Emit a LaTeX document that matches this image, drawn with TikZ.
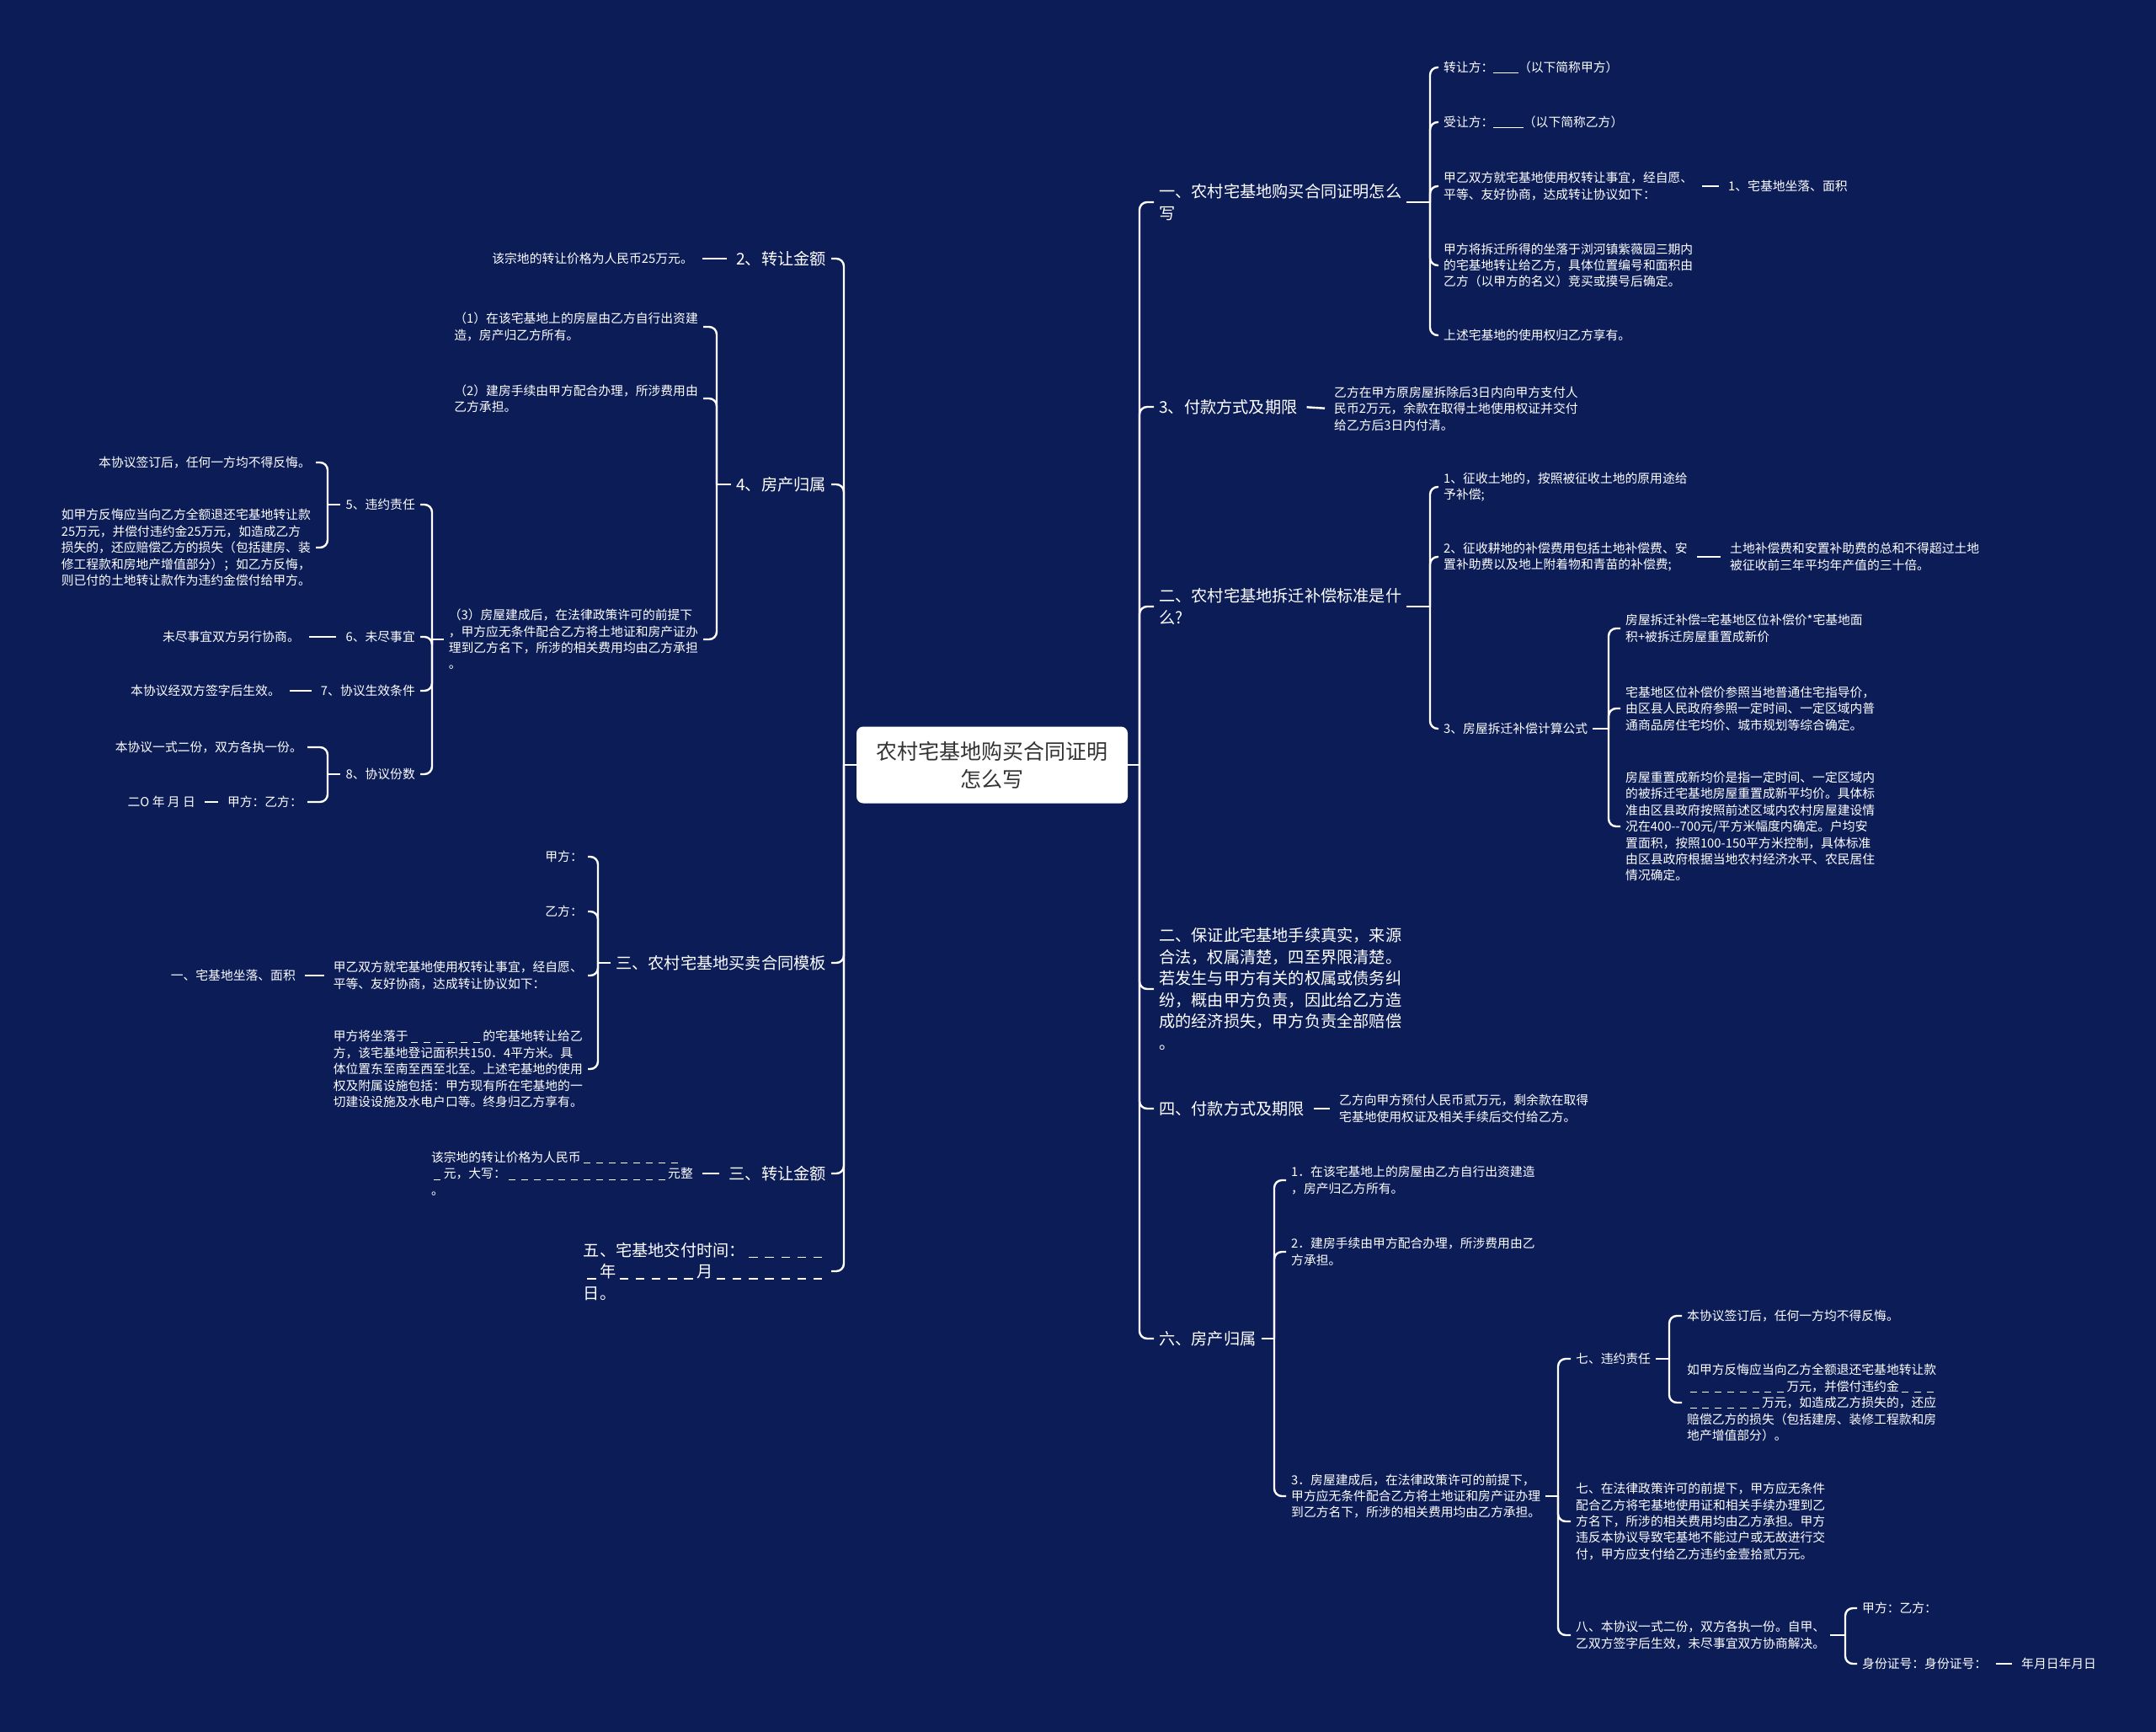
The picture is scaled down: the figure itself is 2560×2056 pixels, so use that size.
\documentclass[tikz,border=0pt]{standalone}
\usepackage{fontspec}
\newfontfamily\cjk{Noto Sans CJK SC}
\usepackage{tikz}

\definecolor{bgblue}{RGB}{11,28,87}
\definecolor{rootgray}{RGB}{51,51,51}
\newcommand\blk{\makebox[1em]{\rule[-0.12em]{0.55em}{0.07em}}}
\newcommand\blanks[1]{\foreach\k in {1,...,#1}{\blk}}
\newcommand\fillin[1]{\rule[-0.12em]{#1}{0.07em}}

\tikzset{
	bigtext/.style={font=\cjk\fontsize{19.2}{25.5}\selectfont, text=white, align=left, inner xsep=6pt, inner ysep=2pt},
	smalltext/.style={font=\cjk\fontsize{14.8}{19.4}\selectfont, text=white, align=left, inner xsep=6pt, inner ysep=2pt},
	rootbox/.style={fill=white, rounded corners=8pt, text=rootgray, font=\cjk\fontsize{25}{33}\selectfont, align=center, minimum width=322pt, minimum height=91pt, inner sep=0pt},
	branch/.style={draw=white, line width=2.4pt, rounded corners=9pt},
	stubline/.style={draw=white, line width=2.4pt, shorten <=5pt, shorten >=5pt}
}

\begin{document}
\begin{tikzpicture}[x=1pt,y=-1pt]
	\fill[bgblue] (0,0) rectangle (2560,2056);

	\node[rootbox] (root) at (1178,908) {农村宅基地购买合同证明\\怎么写};

	\coordinate (tr) at (1353,0);
	\coordinate (tl) at (1002,0);
	\coordinate (s1) at (1698,0);
	\coordinate (s3) at (1698,0);
	\coordinate (s3c) at (1910,0);
	\coordinate (s6) at (1513,0);
	\coordinate (s6c) at (1850,0);
	\coordinate (s6c1) at (1982,0);
	\coordinate (s6c3) at (2191,0);
	\coordinate (s2) at (851,0);
	\coordinate (s2c) at (513,0);
	\coordinate (s2c1) at (389,0);
	\coordinate (s2c4) at (389,0);
	\coordinate (s3l) at (710,0);

	% right side
	\node[bigtext, anchor=west] (r1) at (1370,240) {一、农村宅基地购买合同证明怎么\\写};
	\node[bigtext, anchor=west] (r2) at (1370,483) {3、付款方式及期限};
	\node[bigtext, anchor=west] (r3) at (1370,720) {二、农村宅基地拆迁补偿标准是什\\么?};
	\node[bigtext, anchor=west] (r4) at (1370,1174) {二、保证此宅基地手续真实，来源\\合法，权属清楚，四至界限清楚。\\若发生与甲方有关的权属或债务纠\\纷，概由甲方负责，因此给乙方造\\成的经济损失，甲方负责全部赔偿\\。};
	\node[bigtext, anchor=west] (r5) at (1370,1316) {四、付款方式及期限};
	\node[bigtext, anchor=west] (r6) at (1370,1589) {六、房产归属};

	\node[smalltext, anchor=west] (r1a) at (1708,80) {转让方：\fillin{2em}（以下简称甲方）};
	\node[smalltext, anchor=west] (r1b) at (1708,145) {受让方：\fillin{2.4em}（以下简称乙方）};
	\node[smalltext, anchor=west] (r1c) at (1708,221) {甲乙双方就宅基地使用权转让事宜，经自愿、\\平等、友好协商，达成转让协议如下：};
	\node[smalltext, anchor=west] (r1c1) at (2046,221) {1、宅基地坐落、面积};
	\node[smalltext, anchor=west] (r1d) at (1708,315) {甲方将拆迁所得的坐落于浏河镇紫薇园三期内\\的宅基地转让给乙方，具体位置编号和面积由\\乙方（以甲方的名义）竞买或摸号后确定。};
	\node[smalltext, anchor=west] (r1e) at (1708,398) {上述宅基地的使用权归乙方享有。};

	\node[smalltext, anchor=west] (r2a) at (1578,485) {乙方在甲方原房屋拆除后3日内向甲方支付人\\民币2万元，余款在取得土地使用权证并交付\\给乙方后3日内付清。};

	\node[smalltext, anchor=west] (r3a) at (1708,578) {1、征收土地的，按照被征收土地的原用途给\\予补偿;};
	\node[smalltext, anchor=west] (r3b) at (1708,661) {2、征收耕地的补偿费用包括土地补偿费、安\\置补助费以及地上附着物和青苗的补偿费;};
	\node[smalltext, anchor=west] (r3b1) at (2048,661) {土地补偿费和安置补助费的总和不得超过土地\\被征收前三年平均年产值的三十倍。};
	\node[smalltext, anchor=west] (r3c) at (1708,865) {3、房屋拆迁补偿计算公式};
	\node[smalltext, anchor=west] (r3c1) at (1924,746) {房屋拆迁补偿=宅基地区位补偿价*宅基地面\\积+被拆迁房屋重置成新价};
	\node[smalltext, anchor=west] (r3c2) at (1924,841) {宅基地区位补偿价参照当地普通住宅指导价，\\由区县人民政府参照一定时间、一定区域内普\\通商品房住宅均价、城市规划等综合确定。};
	\node[smalltext, anchor=west] (r3c3) at (1924,981) {房屋重置成新均价是指一定时间、一定区域内\\的被拆迁宅基地房屋重置成新平均价。具体标\\准由区县政府按照前述区域内农村房屋建设情\\况在400{-}{-}700元/平方米幅度内确定。户均安\\置面积，按照100-150平方米控制，具体标准\\由区县政府根据当地农村经济水平、农民居住\\情况确定。};

	\node[smalltext, anchor=west] (r5a) at (1584,1316) {乙方向甲方预付人民币贰万元，剩余款在取得\\宅基地使用权证及相关手续后交付给乙方。};

	\node[smalltext, anchor=west] (r6a) at (1527,1401) {1．在该宅基地上的房屋由乙方自行出资建造\\，房产归乙方所有。};
	\node[smalltext, anchor=west] (r6b) at (1527,1486) {2．建房手续由甲方配合办理，所涉费用由乙\\方承担。};
	\node[smalltext, anchor=west] (r6c) at (1527,1776) {3．房屋建成后，在法律政策许可的前提下，\\甲方应无条件配合乙方将土地证和房产证办理\\到乙方名下，所涉的相关费用均由乙方承担。};
	\node[smalltext, anchor=west] (r6c1) at (1865,1613) {七、违约责任};
	\node[smalltext, anchor=west] (r6c1a) at (1997,1562) {本协议签订后，任何一方均不得反悔。};
	\node[smalltext, anchor=west] (r6c1b) at (1997,1665) {如甲方反悔应当向乙方全额退还宅基地转让款\\\blanks{8}万元，并偿付违约金\blanks{3}\\\blanks{6}万元，如造成乙方损失的，还应\\赔偿乙方的损失（包括建房、装修工程款和房\\地产增值部分）。};
	\node[smalltext, anchor=west] (r6c2) at (1865,1806) {七、在法律政策许可的前提下，甲方应无条件\\配合乙方将宅基地使用证和相关手续办理到乙\\方名下，所涉的相关费用均由乙方承担。甲方\\违反本协议导致宅基地不能过户或无故进行交\\付，甲方应支付给乙方违约金壹拾贰万元。};
	\node[smalltext, anchor=west] (r6c3) at (1865,1941) {八、本协议一式二份，双方各执一份。自甲、\\乙双方签字后生效，未尽事宜双方协商解决。};
	\node[smalltext, anchor=west] (r6c3a) at (2205,1909) {甲方：乙方：};
	\node[smalltext, anchor=west] (r6c3b) at (2205,1975) {身份证号：身份证号：};
	\node[smalltext, anchor=west] (r6c3b1) at (2394,1975) {年月日年月日};

	% left side
	\node[bigtext, anchor=east] (l1) at (987,307) {2、转让金额};
	\node[bigtext, anchor=east] (l2) at (987,575) {4、房产归属};
	\node[bigtext, anchor=east] (l3) at (987,1143) {三、农村宅基地买卖合同模板};
	\node[bigtext, anchor=east] (l4) at (987,1393) {三、转让金额};
	\node[bigtext, anchor=east] (l5) at (987,1509) {五、宅基地交付时间：\blanks{5}\\\blanks{1}年\blanks{5}月\blanks{7}\\日。};

	\node[smalltext, anchor=east] (l1a) at (829,307) {该宗地的转让价格为人民币25万元。};

	\node[smalltext, anchor=east] (l2a) at (835,388) {（1）在该宅基地上的房屋由乙方自行出资建\\造，房产归乙方所有。};
	\node[smalltext, anchor=east] (l2b) at (835,473) {（2）建房手续由甲方配合办理，所涉费用由\\乙方承担。};
	\node[smalltext, anchor=east] (l2c) at (835,759) {（3）房屋建成后，在法律政策许可的前提下\\，甲方应无条件配合乙方将土地证和房产证办\\理到乙方名下，所涉的相关费用均由乙方承担\\。};
	\node[smalltext, anchor=east] (l2c1) at (499,599) {5、违约责任};
	\node[smalltext, anchor=east] (l2c1a) at (375,549) {本协议签订后，任何一方均不得反悔。};
	\node[smalltext, anchor=east] (l2c1b) at (375,650) {如甲方反悔应当向乙方全额退还宅基地转让款\\25万元，并偿付违约金25万元，如造成乙方\\损失的，还应赔偿乙方的损失（包括建房、装\\修工程款和房地产增值部分）；如乙方反悔，\\则已付的土地转让款作为违约金偿付给甲方。};
	\node[smalltext, anchor=east] (l2c2) at (499,756) {6、未尽事宜};
	\node[smalltext, anchor=east] (l2c2a) at (362,756) {未尽事宜双方另行协商。};
	\node[smalltext, anchor=east] (l2c3) at (499,820) {7、协议生效条件};
	\node[smalltext, anchor=east] (l2c3a) at (339,820) {本协议经双方签字后生效。};
	\node[smalltext, anchor=east] (l2c4) at (499,919) {8、协议份数};
	\node[smalltext, anchor=east] (l2c4a) at (365,887) {本协议一式二份，双方各执一份。};
	\node[smalltext, anchor=east] (l2c4b) at (365,952) {甲方：乙方：};
	\node[smalltext, anchor=east] (l2c4b1) at (238,952) {二O 年 月 日};

	\node[smalltext, anchor=east] (l3a) at (698,1017) {甲方：};
	\node[smalltext, anchor=east] (l3b) at (698,1082) {乙方：};
	\node[smalltext, anchor=east] (l3c) at (698,1158) {甲乙双方就宅基地使用权转让事宜，经自愿、\\平等、友好协商，达成转让协议如下：};
	\node[smalltext, anchor=east] (l3c1) at (357,1158) {一、宅基地坐落、面积};
	\node[smalltext, anchor=east] (l3d) at (698,1269) {甲方将坐落于\blanks{6}的宅基地转让给乙\\方，该宅基地登记面积共150．4平方米。具\\体位置东至南至西至北至。上述宅基地的使用\\权及附属设施包括：甲方现有所在宅基地的一\\切建设设施及水电户口等。终身归乙方享有。};

	\node[smalltext, anchor=east] (l4a) at (829,1393) {该宗地的转让价格为人民币\blanks{8}\\\blanks{1}元，大写：\blanks{13}元整\\。};

	% connectors, right
	\draw[branch] (root.east) -- (root.east -| tr);
	\foreach \c in {r1,r2,r3,r4,r5,r6}
		\draw[branch] (root.east -| tr) |- (\c.west);

	\draw[branch] (r1.east) -- (r1.east -| s1);
	\foreach \c in {r1a,r1b,r1c,r1d,r1e}
		\draw[branch] (r1.east -| s1) |- (\c.west);
	\draw[stubline] (r1c.east) -- (r1c1.west);
	\draw[stubline] (r2.east) -- (r2a.west);

	\draw[branch] (r3.east) -- (r3.east -| s3);
	\foreach \c in {r3a,r3b,r3c}
		\draw[branch] (r3.east -| s3) |- (\c.west);
	\draw[stubline] (r3b.east) -- (r3b1.west);
	\draw[branch] (r3c.east) -- (r3c.east -| s3c);
	\foreach \c in {r3c1,r3c2,r3c3}
		\draw[branch] (r3c.east -| s3c) |- (\c.west);

	\draw[stubline] (r5.east) -- (r5a.west);

	\draw[branch] (r6.east) -- (r6.east -| s6);
	\foreach \c in {r6a,r6b,r6c}
		\draw[branch] (r6.east -| s6) |- (\c.west);
	\draw[branch] (r6c.east) -- (r6c.east -| s6c);
	\foreach \c in {r6c1,r6c2,r6c3}
		\draw[branch] (r6c.east -| s6c) |- (\c.west);
	\draw[branch] (r6c1.east) -- (r6c1.east -| s6c1);
	\foreach \c in {r6c1a,r6c1b}
		\draw[branch] (r6c1.east -| s6c1) |- (\c.west);
	\draw[branch] (r6c3.east) -- (r6c3.east -| s6c3);
	\foreach \c in {r6c3a,r6c3b}
		\draw[branch] (r6c3.east -| s6c3) |- (\c.west);
	\draw[stubline] (r6c3b.east) -- (r6c3b1.west);

	% connectors, left
	\draw[branch] (root.west) -- (root.west -| tl);
	\foreach \c in {l1,l2,l3,l4,l5}
		\draw[branch] (root.west -| tl) |- (\c.east);

	\draw[stubline] (l1.west) -- (l1a.east);

	\draw[branch] (l2.west) -- (l2.west -| s2);
	\foreach \c in {l2a,l2b,l2c}
		\draw[branch] (l2.west -| s2) |- (\c.east);
	\draw[branch] (l2c.west) -- (l2c.west -| s2c);
	\foreach \c in {l2c1,l2c2,l2c3,l2c4}
		\draw[branch] (l2c.west -| s2c) |- (\c.east);
	\draw[branch] (l2c1.west) -- (l2c1.west -| s2c1);
	\foreach \c in {l2c1a,l2c1b}
		\draw[branch] (l2c1.west -| s2c1) |- (\c.east);
	\draw[stubline] (l2c2.west) -- (l2c2a.east);
	\draw[stubline] (l2c3.west) -- (l2c3a.east);
	\draw[branch] (l2c4.west) -- (l2c4.west -| s2c4);
	\foreach \c in {l2c4a,l2c4b}
		\draw[branch] (l2c4.west -| s2c4) |- (\c.east);
	\draw[stubline] (l2c4b.west) -- (l2c4b1.east);

	\draw[branch] (l3.west) -- (l3.west -| s3l);
	\foreach \c in {l3a,l3b,l3c,l3d}
		\draw[branch] (l3.west -| s3l) |- (\c.east);
	\draw[stubline] (l3c.west) -- (l3c1.east);

	\draw[stubline] (l4.west) -- (l4a.east);
\end{tikzpicture}
\end{document}
